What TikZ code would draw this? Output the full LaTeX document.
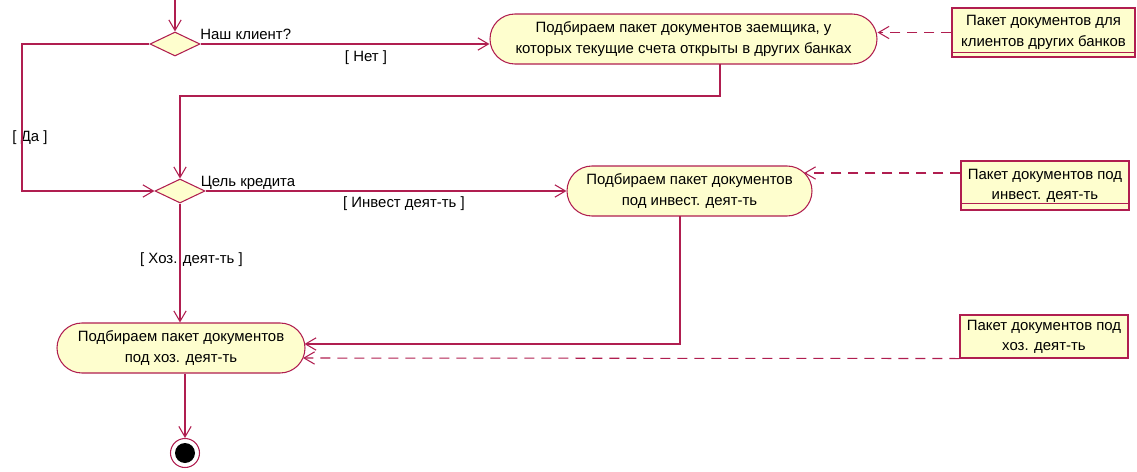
\documentclass[tikz,border=0pt]{standalone}
\usepackage{fontspec}
\setmainfont{Liberation Sans}
\usetikzlibrary{arrows.meta,shapes.geometric,shapes.misc}
\definecolor{umlred}{RGB}{176,30,80}
\definecolor{umlfill}{RGB}{254,254,206}

\begin{document}
\begin{tikzpicture}[>={Straight Barb[length=6pt,width=7pt]}, font=\fontsize{8.5}{11.5}\selectfont, line width=0.6pt,
	activity/.style={rounded rectangle, draw=umlred, fill=umlfill, minimum height=1cm, inner sep=0pt, align=center},
	objbox/.style={rectangle, draw=umlred, fill=umlfill, inner sep=0pt, align=center},
	choice/.style={diamond, draw=umlred, fill=umlfill, aspect=2, minimum width=1cm, minimum height=0.48cm, inner sep=0pt},
	flow/.style={draw=umlred, ->},
	objflow/.style={draw=umlred, ->, dash pattern=on 0.2cm off 0.14cm}]
	\useasboundingbox (0,0) rectangle (22.74,-9.44);
	\coordinate (start) at (3.5,0);
	\node[choice] (client) at (3.5,-0.88) {};
	\node[activity, minimum width=7.74cm] (other_banks) at (13.67,-0.78) {Подбираем пакет документов заемщика, у\\которых текущие счета открыты в других банках};
	\node[objbox, minimum width=3.66cm, minimum height=0.98cm] (docs_other) at (20.87,-0.65) {Пакет документов для\\клиентов других банков};
	\node[choice] (purpose) at (3.6,-3.82) {};
	\node[activity, minimum width=4.9cm] (invest) at (13.79,-3.82) {Подбираем пакет документов\\под инвест. деят-ть};
	\node[objbox, minimum width=3.36cm, minimum height=0.98cm] (docs_invest) at (20.9,-3.71) {Пакет документов под\\инвест. деят-ть};
	\node[activity, minimum width=4.96cm] (economic) at (3.62,-6.96) {Подбираем пакет документов\\под хоз. деят-ть};
	\node[objbox, minimum width=3.36cm, minimum height=0.86cm] (docs_economic) at (20.88,-6.73) {Пакет документов под\\хоз. деят-ть};
	\node[circle, draw=umlred, minimum size=0.58cm, inner sep=0pt, path picture={\fill[black] (path picture bounding box.center) circle (0.2cm);}] (final) at (3.7,-9.06) {};
	\coordinate (in_invest) at (16.08,-3.46);
	\coordinate (in_econ_flow) at (6.09,-6.88);
	\coordinate (in_econ_obj) at (6.06,-7.16);
	\draw[umlred] ([yshift=0.1cm]docs_other.south west) -- ([yshift=0.1cm]docs_other.south east);
	\draw[umlred] ([yshift=0.14cm]docs_invest.south west) -- ([yshift=0.14cm]docs_invest.south east);
	\node[anchor=west] (client_txt) at (3.88,-0.69) {Наш клиент?};
	\node (no_txt) at (7.32,-1.16) {[ Нет ]};
	\node (yes_txt) at (0.6,-2.76) {[ Да ]};
	\node (purpose_txt) at (4.96,-3.65) {Цель кредита};
	\node (invest_txt) at (8.08,-4.08) {[ Инвест деят-ть ]};
	\node (econ_txt) at (3.83,-5.2) {[ Хоз. деят-ть ]};
	\draw[flow] (start) -- (client.north);
	\draw[flow] (client.east) -- (client.east -| other_banks.west);
	\draw[flow] (client.west) -- (0.44,-0.88) -- (0.44,-3.82) -- (purpose.west);
	\draw[flow] (14.4,-1.28) -- (14.4,-1.92) -- (3.6,-1.92) -- (purpose.north);
	\draw[objflow] (docs_other.west) -- (docs_other.west -| other_banks.east);
	\draw[flow] (purpose.east) -- (invest.west);
	\draw[objflow] (docs_invest.west |- in_invest) -- (in_invest);
	\draw[flow] (purpose.south) -- (purpose.south |- economic.north);
	\draw[flow] (13.6,-4.32) -- (13.6,-6.88) -- (in_econ_flow);
	\draw[objflow] (docs_economic.south west) -- (in_econ_obj);
	\draw[flow] (economic.south -| final) -- (final.north);
\end{tikzpicture}
\end{document}
